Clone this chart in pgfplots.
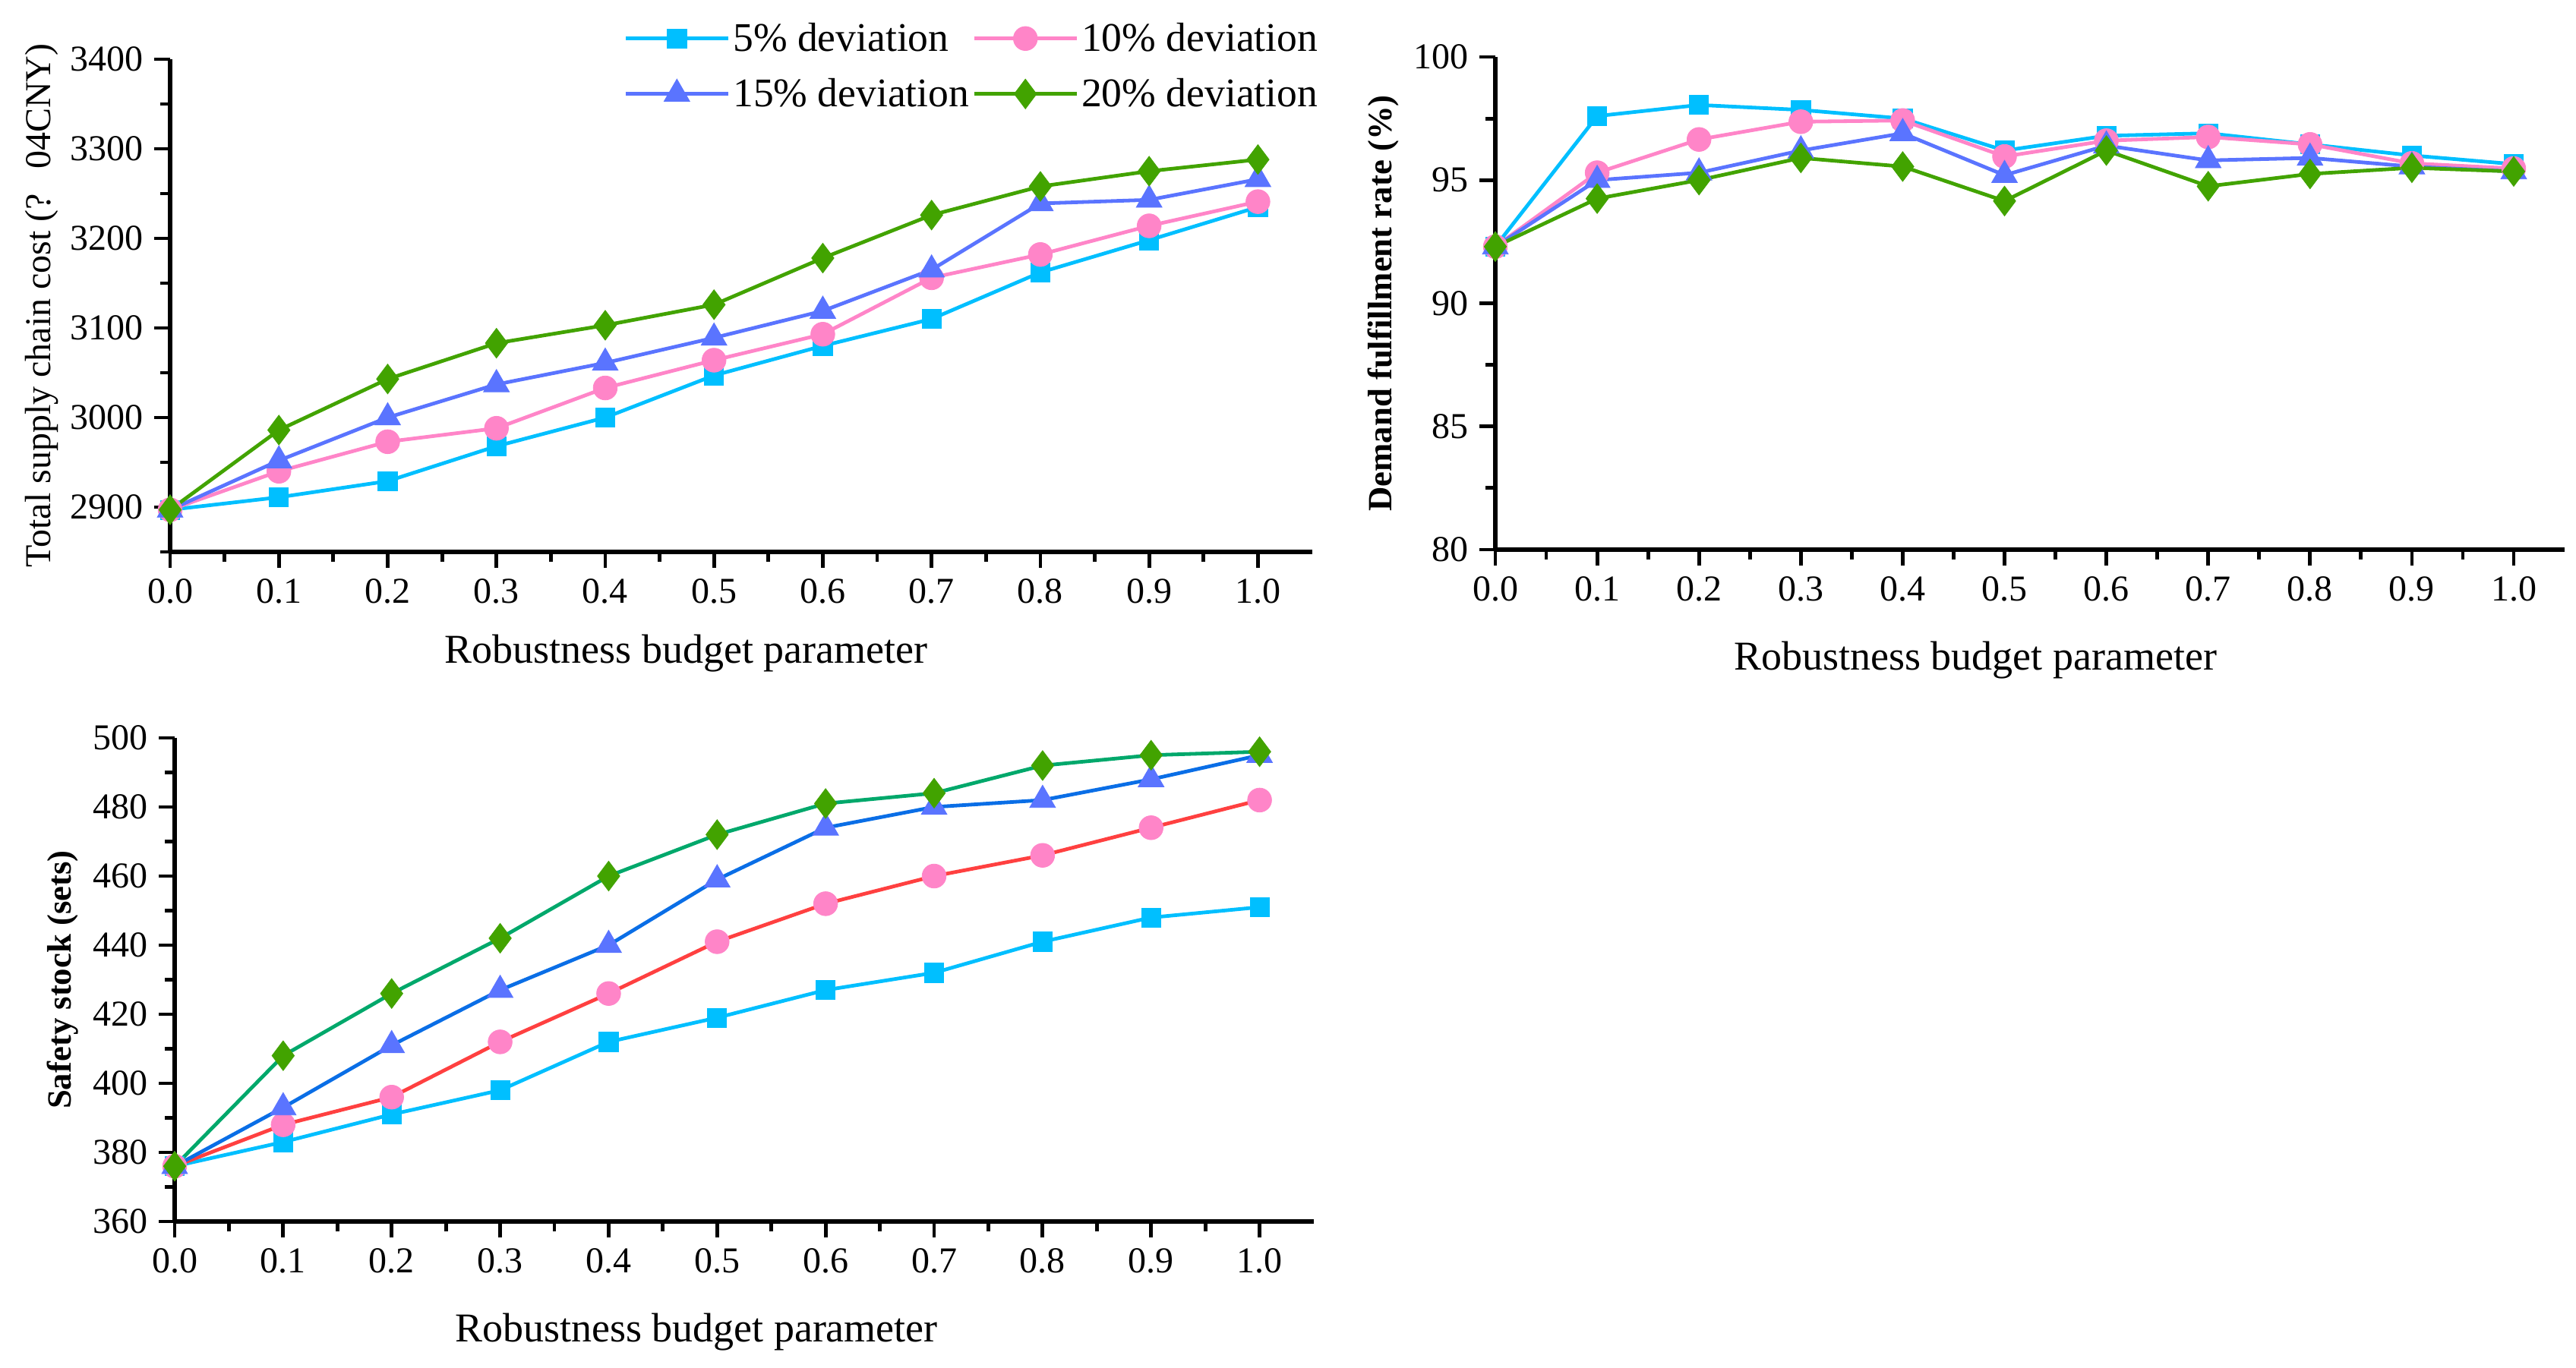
\documentclass[border=0pt]{standalone}
\usepackage{fontspec}
\setmainfont{Liberation Serif}
\usepackage{pgfplots}
\usepackage{pgfplotstable}
\pgfplotsset{compat=1.18}

\definecolor{cC}{HTML}{00BFFF}
\definecolor{cP}{HTML}{FF85C8}
\definecolor{cB}{HTML}{5A74FF}
\definecolor{cG}{HTML}{42A300}
\definecolor{lR}{HTML}{FF4040}
\definecolor{lB}{HTML}{0A6EE6}
\definecolor{lG}{HTML}{00A86B}

\pgfplotstableread{
x c5 c10 c15 c20
0.0 2897 2897 2897 2897
0.1 2911 2940 2952 2986
0.2 2929 2973 3000 3043
0.3 2968 2988 3037 3083
0.4 3000 3033 3061 3103
0.5 3047 3064 3089 3126
0.6 3080 3093 3119 3178
0.7 3110 3156 3165 3226
0.8 3162 3182 3239 3258
0.9 3198 3214 3243 3275
1.0 3235 3241 3266 3288
}\costtable

\pgfplotstableread{
x c5 c10 c15 c20
0.0 92.3 92.3 92.3 92.3
0.1 97.6 95.3 95.0 94.25
0.2 98.05 96.65 95.3 95.0
0.3 97.85 97.37 96.2 95.9
0.4 97.5 97.42 96.9 95.55
0.5 96.2 95.96 95.2 94.15
0.6 96.8 96.6 96.4 96.2
0.7 96.9 96.75 95.8 94.75
0.8 96.45 96.45 95.9 95.25
0.9 96.0 95.68 95.55 95.5
1.0 95.65 95.47 95.35 95.35
}\ratetable

\pgfplotstableread{
x c5 c10 c15 c20
0.0 376 376 376 376
0.1 383 388 393 408
0.2 391 396 411 426
0.3 398 412 427 442
0.4 412 426 440 460
0.5 419 441 459 472
0.6 427 452 474 481
0.7 432 460 480 484
0.8 441 466 482 492
0.9 448 474 488 495
1.0 451 482 495 496
}\stocktable

\pgfplotsset{
  base/.style={
    scale only axis,
    anchor=south west,
    axis x line*=bottom, axis y line*=left,
    axis line style={line width=1.3pt},
    every tick/.style={line width=1.2pt, black},
    tick align=outside,
    major tick length=5.25pt, minor tick length=3.25pt,
    xmin=0, xmax=1.05,
    xtick={0,0.1,0.2,0.3,0.4,0.5,0.6,0.7,0.8,0.9,1.0},
    xticklabels={0.0,0.1,0.2,0.3,0.4,0.5,0.6,0.7,0.8,0.9,1.0},
    minor xtick={0.05,0.15,0.25,0.35,0.45,0.55,0.65,0.75,0.85,0.95},
    tick label style={font=\fontsize{12}{14}\selectfont},
    /pgf/number format/assume math mode=true,
    /pgf/number format/1000 sep={},
    xlabel={Robustness budget parameter},
    xlabel style={font=\fontsize{13.5}{16}\selectfont, anchor=center},
    ylabel style={anchor=center},
    clip=false,
    every axis plot/.append style={line width=1.2pt},
  },
  s5/.style={color=cC, mark=square*, mark size=3.15pt, mark options={fill=cC, draw=cC, line width=0.2pt}},
  s10/.style={color=cP, mark=*, mark size=3.95pt, mark options={fill=cP, draw=cP, line width=0.2pt}},
  s15/.style={color=cB, mark=triangle*, mark size=4.9pt, mark options={fill=cB, draw=cB, line width=0.2pt}},
  s20/.style={color=cG, mark=diamond*, mark size=4.9pt, mark options={fill=cG, draw=cG, line width=0.2pt}},
}

\begin{document}
\begin{tikzpicture}
\path[use as bounding box] (0,0) rectangle (848pt,450.25pt);

% Plot 1: cost
\begin{axis}[base,
  at={(56pt,268.5pt)}, width=376pt, height=162.25pt,
  ymin=2850, ymax=3400,
  ytick={2900,3000,3100,3200,3300,3400},
  minor ytick={2850,2950,3050,3150,3250,3350},
  ylabel={Total supply chain cost (?\hspace{8pt}04CNY)},
  ylabel style={at={(axis description cs:-0.1125,0.5)}, font=\fontsize{12}{14}\selectfont},
  xlabel style={at={(axis description cs:0.452,-0.2065)}},
  legend columns=2,
  legend cell align=left,
  legend image code/.code={\draw[mark repeat=2,mark phase=2,#1] plot coordinates {(0pt,0pt) (16.875pt,0pt) (33.75pt,0pt)};},
  legend style={draw=none, fill=none, inner sep=0pt,
    at={(axis description cs:1.008,1.0817)}, anchor=north east,
    font=\fontsize{13.4}{15}\selectfont,
    nodes={inner sep=1pt, text height=9.5pt, text depth=1pt},
    row sep=5.75pt,
    /tikz/every even column/.append style={column sep=0pt}},
]
\addplot[s5] table[x=x, y=c5] {\costtable};
\addlegendentry{5\% deviation}
\addplot[s10] table[x=x, y=c10] {\costtable};
\addlegendentry{10\% deviation}
\addplot[s15] table[x=x, y=c15] {\costtable};
\addlegendentry{15\% deviation}
\addplot[s20] table[x=x, y=c20] {\costtable};
\addlegendentry{20\% deviation}
\end{axis}

% Plot 2: demand fulfillment rate
\begin{axis}[base,
  at={(492.25pt,269.25pt)}, width=352pt, height=162.25pt,
  ymin=80, ymax=100,
  ytick={80,85,90,95,100},
  minor ytick={82.5,87.5,92.5,97.5},
  ylabel={Demand fulfillment rate (\%)},
  ylabel style={at={(axis description cs:-0.105,0.5)}, font=\fontsize{11.2}{13}\selectfont\bfseries},
  xlabel style={at={(axis description cs:0.449,-0.225)}},
]
\addplot[s5] table[x=x, y=c5] {\ratetable};
\addplot[s10] table[x=x, y=c10] {\ratetable};
\addplot[s15] table[x=x, y=c15] {\ratetable};
\addplot[s20] table[x=x, y=c20] {\ratetable};
\end{axis}

% Plot 3: safety stock
\begin{axis}[base,
  at={(57.5pt,48pt)}, width=375pt, height=159.25pt,
  ymin=360, ymax=500,
  ytick={360,380,400,420,440,460,480,500},
  minor ytick={370,390,410,430,450,470,490},
  ylabel={Safety stock (sets)},
  ylabel style={at={(axis description cs:-0.0985,0.5)}, font=\fontsize{11.2}{13}\selectfont\bfseries},
  xlabel style={at={(axis description cs:0.458,-0.229)}},
]
\addplot[s5, color=cC] table[x=x, y=c5] {\stocktable};
\addplot[s10, color=lR] table[x=x, y=c10] {\stocktable};
\addplot[s15, color=lB] table[x=x, y=c15] {\stocktable};
\addplot[s20, color=lG] table[x=x, y=c20] {\stocktable};
\end{axis}
\end{tikzpicture}
\end{document}
